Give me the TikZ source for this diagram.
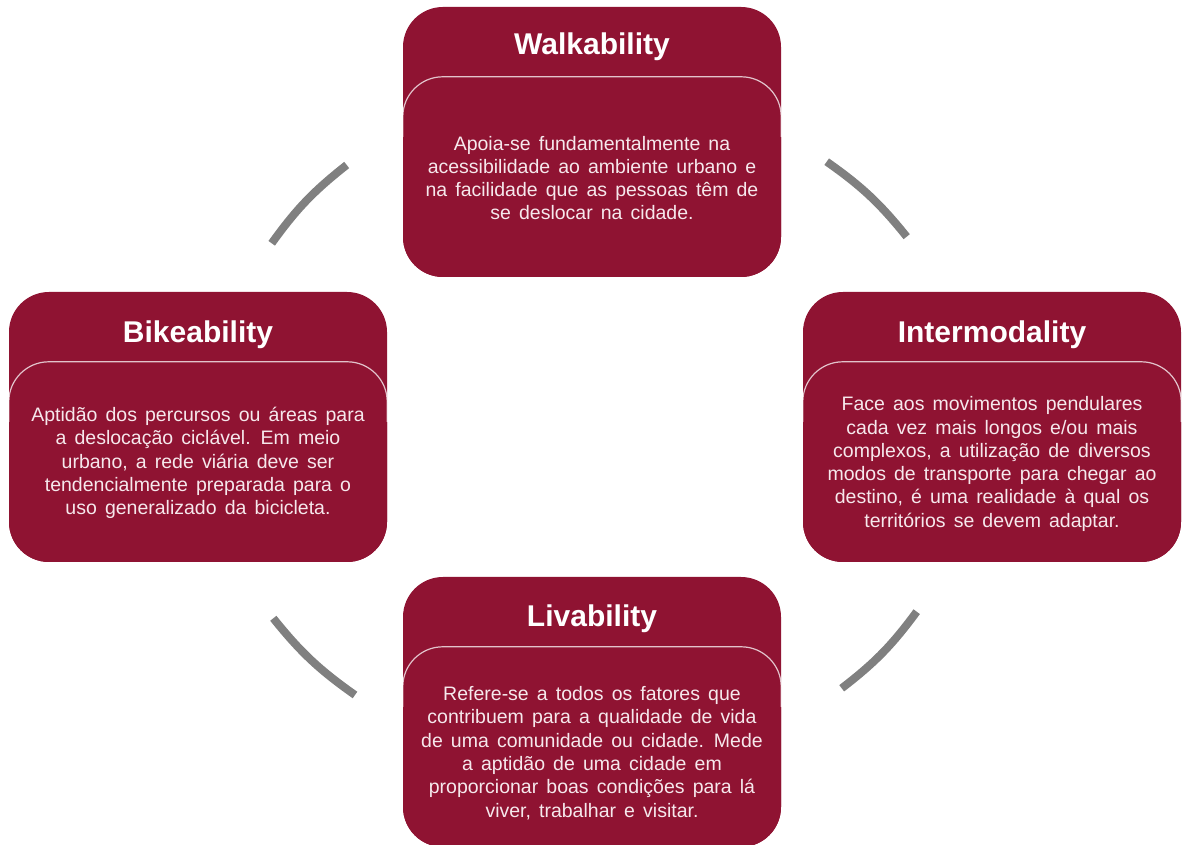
\documentclass[tikz,border=0pt]{standalone}
\usepackage{fontspec}
\setmainfont{Liberation Sans}
\newfontfamily\bodyfont[WordSpace=1.5]{Liberation Sans}
\definecolor{crim}{RGB}{143,19,50}
\definecolor{arcgray}{RGB}{128,128,128}
\definecolor{bodytxt}{RGB}{246,232,236}
\begin{document}
\begin{tikzpicture}[x=1pt,y=1pt,
  outerbox/.style={fill=crim, draw=none, rounded corners=40pt, minimum width=378pt, minimum height=270pt, inner sep=0pt},
  innerbox/.style={fill=crim, draw=none, rounded corners=40pt, minimum width=378pt, minimum height=200pt, inner sep=0pt},
  innerline/.style={draw=white, draw opacity=0.75, line width=1.2pt, rounded corners=40pt},
  titletxt/.style={text=white, font=\fontsize{30}{35}\selectfont\bfseries, inner sep=0pt},
  bodytext/.style={text=bodytxt, font=\bodyfont\fontsize{19.5}{23.3}\selectfont, align=center, inner sep=0pt},
  ring/.style={draw=arcgray, line width=8pt}]
\useasboundingbox (0,0) rectangle (1184,845);

% ring segments
\coordinate (tl1) at (271.7,601.7);
\coordinate (tl2) at (346.7,680);
\coordinate (tr1) at (826.7,683.3);
\coordinate (tr2) at (906.7,608.3);
\coordinate (br1) at (916.7,233.3);
\coordinate (br2) at (841.7,156.7);
\coordinate (bl1) at (355,150);
\coordinate (bl2) at (273.3,226.7);
\draw[ring] (tl1) to[bend left=8] (tl2);
\draw[ring] (tr1) to[bend left=8] (tr2);
\draw[ring] (br1) to[bend left=8] (br2);
\draw[ring] (bl1) to[bend left=8] (bl2);

% Walkability
\node[outerbox] (walk) at (592,703) {};
\node[innerbox] (walkin) at (592,668) {};
\draw[innerline] ([yshift=-60pt]walkin.north west) -- (walkin.north west) -- (walkin.north east) -- ([yshift=-60pt]walkin.north east);
\node[titletxt] (walkt) at (592,798) {Walkability};
\node[bodytext] (walkb) at (592,667) {Apoia-se fundamentalmente na\\acessibilidade ao ambiente urbano e\\na facilidade que as pessoas têm de\\se deslocar na cidade.};

% Bikeability
\node[outerbox] (bike) at (198,418) {};
\node[innerbox] (bikein) at (198,383) {};
\draw[innerline] ([yshift=-60pt]bikein.north west) -- (bikein.north west) -- (bikein.north east) -- ([yshift=-60pt]bikein.north east);
\node[titletxt] (biket) at (198,510) {Bikeability};
\node[bodytext] (bikeb) at (198,382) {Aptidão dos percursos ou áreas para\\a deslocação ciclável. Em meio\\urbano, a rede viária deve ser\\tendencialmente preparada para o\\uso generalizado da bicicleta.};

% Intermodality
\node[outerbox] (inter) at (992,418) {};
\node[innerbox] (interin) at (992,383) {};
\draw[innerline] ([yshift=-60pt]interin.north west) -- (interin.north west) -- (interin.north east) -- ([yshift=-60pt]interin.north east);
\node[titletxt] (intert) at (992,510) {Intermodality};
\node[bodytext] (interb) at (992,381) {Face aos movimentos pendulares\\cada vez mais longos e/ou mais\\complexos, a utilização de diversos\\modos de transporte para chegar ao\\destino, é uma realidade à qual os\\territórios se devem adaptar.};

% Livability
\node[outerbox] (liv) at (592,133) {};
\node[innerbox] (livin) at (592,98) {};
\draw[innerline] ([yshift=-60pt]livin.north west) -- (livin.north west) -- (livin.north east) -- ([yshift=-60pt]livin.north east);
\node[titletxt] (livt) at (592,226) {Livability};
\node[bodytext] (livb) at (592,92) {Refere-se a todos os fatores que\\contribuem para a qualidade de vida\\de uma comunidade ou cidade. Mede\\a aptidão de uma cidade em\\proporcionar boas condições para lá\\viver, trabalhar e visitar.};
\end{tikzpicture}
\end{document}
